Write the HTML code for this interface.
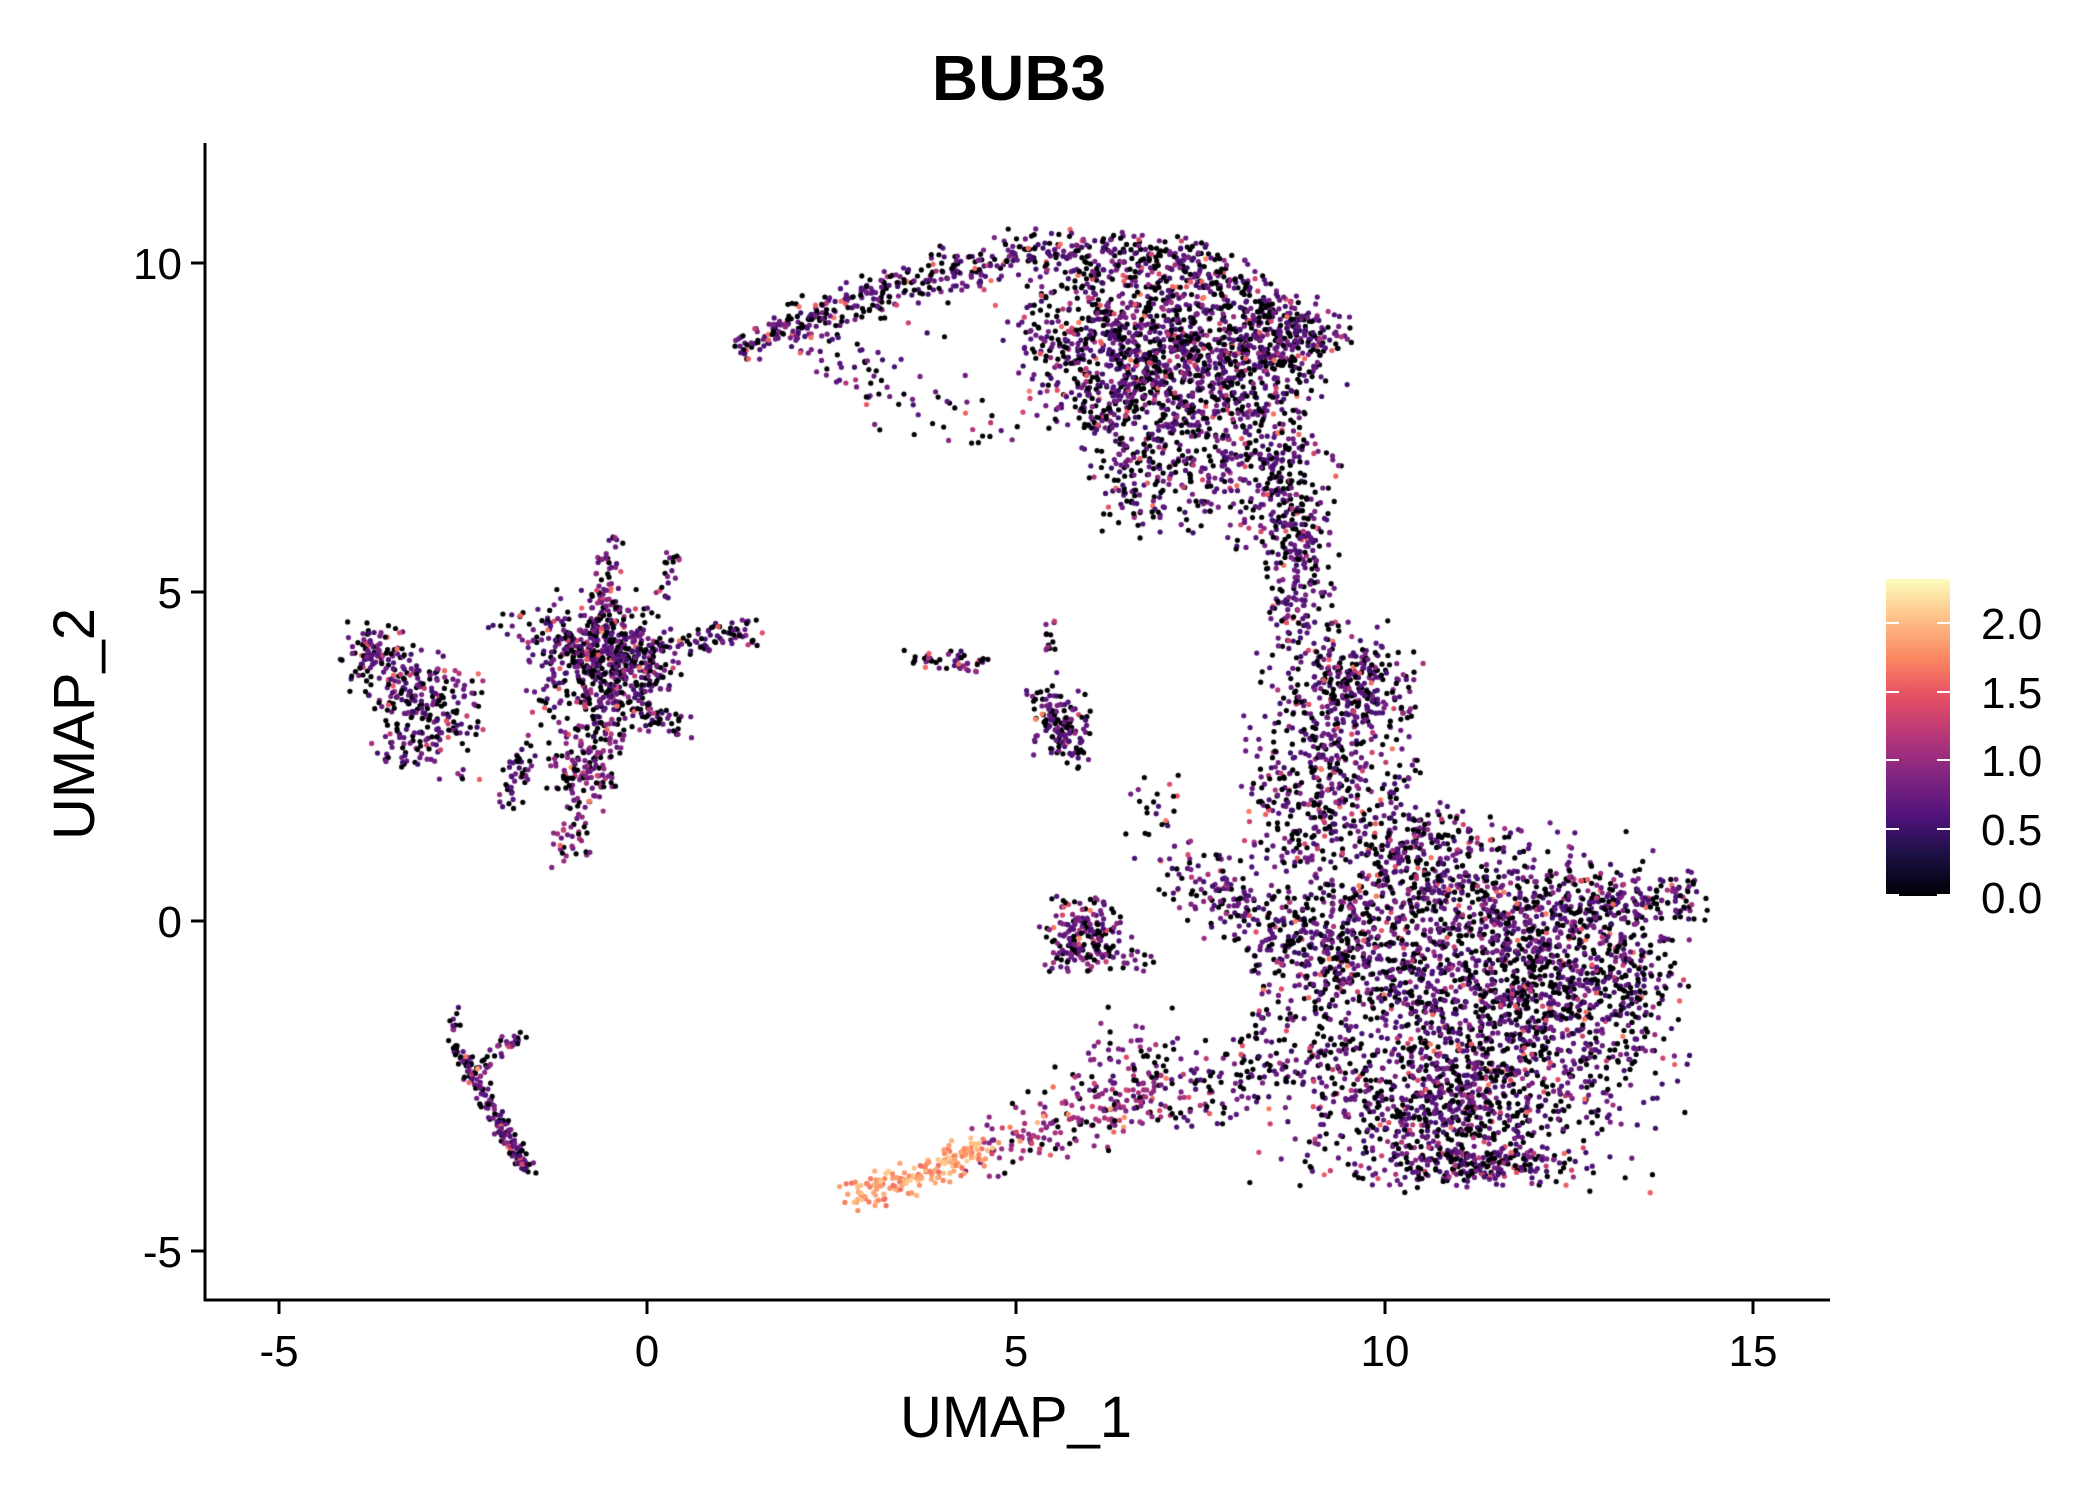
<!DOCTYPE html>
<html><head><meta charset="utf-8"><style>
html,body{margin:0;padding:0;background:#fff;}
#wrap{position:relative;width:2100px;height:1500px;overflow:hidden;font-family:"Liberation Sans",sans-serif;}
canvas{position:absolute;left:0;top:0;}
</style></head><body><div id="wrap">
<canvas id="c" width="2100" height="1500"></canvas>
<svg width="2100" height="1500" style="position:absolute;left:0;top:0" font-family="Liberation Sans, sans-serif">
<defs><linearGradient id="g" x1="0" y1="1" x2="0" y2="0">
<stop offset="0" stop-color="#000004"/><stop offset="0.13" stop-color="#1c1044"/><stop offset="0.25" stop-color="#4f127b"/>
<stop offset="0.38" stop-color="#812581"/><stop offset="0.5" stop-color="#b5367a"/><stop offset="0.63" stop-color="#e55064"/>
<stop offset="0.75" stop-color="#fb8761"/><stop offset="0.88" stop-color="#fec287"/><stop offset="1" stop-color="#fcfdbf"/></linearGradient></defs>
<text x="1019" y="100" font-size="64" font-weight="bold" text-anchor="middle">BUB3</text>
<line x1="205" y1="143" x2="205" y2="1301" stroke="#000" stroke-width="3"/>
<line x1="204" y1="1300" x2="1830" y2="1300" stroke="#000" stroke-width="3"/>
<g stroke="#000" stroke-width="3">
<line x1="279" y1="1300" x2="279" y2="1314"/><line x1="647" y1="1300" x2="647" y2="1314"/><line x1="1016" y1="1300" x2="1016" y2="1314"/><line x1="1385" y1="1300" x2="1385" y2="1314"/><line x1="1753" y1="1300" x2="1753" y2="1314"/>
<line x1="191" y1="263" x2="205" y2="263"/><line x1="191" y1="592" x2="205" y2="592"/><line x1="191" y1="921" x2="205" y2="921"/><line x1="191" y1="1251" x2="205" y2="1251"/>
</g>
<g font-size="44" text-anchor="middle">
<text x="279" y="1366">-5</text><text x="647" y="1366">0</text><text x="1016" y="1366">5</text><text x="1385" y="1366">10</text><text x="1753" y="1366">15</text>
</g>
<g font-size="44" text-anchor="end">
<text x="182" y="279">10</text><text x="182" y="608">5</text><text x="182" y="937">0</text><text x="182" y="1267">-5</text>
</g>
<text x="1016" y="1437" font-size="58" text-anchor="middle">UMAP_1</text>
<text transform="translate(94,724) rotate(-90)" font-size="58" text-anchor="middle">UMAP_2</text>
<rect x="1886" y="579" width="64" height="317" fill="url(#g)"/>
<g stroke="#fff" stroke-width="2">
<line x1="1886" y1="623" x2="1899" y2="623"/><line x1="1937" y1="623" x2="1950" y2="623"/>
<line x1="1886" y1="692" x2="1899" y2="692"/><line x1="1937" y1="692" x2="1950" y2="692"/>
<line x1="1886" y1="760" x2="1899" y2="760"/><line x1="1937" y1="760" x2="1950" y2="760"/>
<line x1="1886" y1="829" x2="1899" y2="829"/><line x1="1937" y1="829" x2="1950" y2="829"/>
<line x1="1886" y1="895" x2="1899" y2="895"/><line x1="1937" y1="895" x2="1950" y2="895"/>
</g>
<g font-size="44">
<text x="1981" y="639">2.0</text><text x="1981" y="708">1.5</text><text x="1981" y="776">1.0</text><text x="1981" y="845">0.5</text><text x="1981" y="913">0.0</text>
</g>
</svg>
<script>
var cv=document.getElementById('c'),ctx=cv.getContext('2d');
var s=12345;function r(){s=(s*1103515245+12345)%2147483648;return s/2147483648;}
function gn(){var g;do{var u=r()||1e-9,v=r();g=Math.sqrt(-2*Math.log(u))*Math.cos(6.2832*v);}while(Math.abs(g)>2.1);return g;}
var stops=[[0,0,0,4],[.13,28,16,68],[.25,79,18,123],[.38,129,37,129],[.5,181,54,122],[.63,229,80,100],[.75,251,135,97],[.88,254,194,135],[1,252,253,191]];
function col(v){var t=Math.max(0,Math.min(1,v/2.3));for(var i=1;i<stops.length;i++){if(t<=stops[i][0]){var a=stops[i-1],b=stops[i],f=(t-a[0])/(b[0]-a[0]);return 'rgb('+Math.round(a[1]+f*(b[1]-a[1]))+','+Math.round(a[2]+f*(b[2]-a[2]))+','+Math.round(a[3]+f*(b[3]-a[3]))+')';}}return 'rgb(252,253,191)';}
function X(x){return 647+x*73.8;}function Y(y){return 921-y*65.8;}
var pts=[];
function val(b){if(b>=2)return 1.6+r()*0.5;var p=r();if(p<0.4-b*0.25)return 0;if(p<0.9)return 0.45+r()*0.4+b*0.3;return 0.9+r()*0.8+b*0.3;}
function cl(cx,cy,sx,sy,n,b){for(var i=0;i<n;i++)pts.push([cx+gn()*sx,cy+gn()*sy,val(b||0)]);}
function ln(x1,y1,x2,y2,w,n,b){for(var i=0;i<n;i++){var t=r();pts.push([x1+(x2-x1)*t+gn()*w,y1+(y2-y1)*t+gn()*w,val(b||0)]);}}
// top arc
ln(1.2,8.7,3,9.5,0.15,140);ln(3,9.5,5,10.1,0.2,170);ln(5,10.1,7,10.1,0.2,170);ln(7,10.1,9.2,8.8,0.25,220);
ln(2,9.2,3.2,7.7,0.2,45);ln(3,8.6,4.8,7.4,0.3,45);
cl(6.8,8.8,0.85,0.65,750);cl(7.5,7.6,0.75,0.85,550);cl(8.5,8.7,0.5,0.4,250);cl(8.6,6.7,0.4,0.6,200);
ln(5.4,9.6,6.8,6.3,0.35,250);ln(8.8,6.2,8.9,4.3,0.25,180);
// middle
cl(9.3,2.7,0.6,0.9,450);cl(9.7,3.6,0.4,0.35,140);cl(8.9,1.7,0.35,0.5,110);
// big blob
cl(11,-1.3,1.35,1.35,1350);cl(12.1,-0.4,0.95,0.85,550);cl(10.9,-2.9,0.85,0.55,480);cl(12.8,-1.3,0.65,0.85,280);
ln(12.5,0.3,14.3,0.4,0.2,130);cl(9.4,-0.3,0.55,0.65,280);ln(7.2,0.7,9.2,-0.5,0.3,200);cl(10.5,1.0,0.55,0.45,220);cl(11.3,-3.7,0.6,0.15,170);
// tail
ln(2.8,-4.2,4.6,-3.5,0.14,170,2);ln(4.6,-3.5,7,-2.6,0.25,160,1);ln(6.6,-2.6,9.5,-2.1,0.35,170);ln(5.5,-3,6.8,-1.8,0.3,70,0.6);
ln(7,2.2,6.8,1,0.2,25);
// small clusters
cl(5.9,-0.2,0.28,0.28,150,0.3);ln(5.5,-0.4,6.7,-0.5,0.14,55,0.5);
cl(5.6,3.0,0.22,0.32,110);ln(3.6,4.0,4.6,3.9,0.09,45);ln(5.3,3.4,5.9,2.4,0.09,40);ln(5.4,4.5,5.6,3.8,0.09,15);
// left star
cl(-0.7,3.9,0.45,0.55,430);cl(-3.0,3.2,0.38,0.5,250);cl(-3.7,4.0,0.22,0.28,100);ln(-2,4.6,0.3,3.6,0.14,120);
ln(-0.6,4,1.4,4.4,0.14,150);ln(-0.7,4.2,-0.4,5.9,0.11,80,0.4);ln(-0.4,3,-1.1,1.0,0.13,110,0.6);cl(-1,2.4,0.2,0.28,70,0.5);
ln(-0.4,3.5,0.4,5.6,0.09,40);ln(-0.5,3.5,0.5,2.9,0.11,55);ln(-1.6,2.7,-1.9,1.8,0.11,45);
// bottom-left line
ln(-2.6,-1.9,-1.6,-3.8,0.07,160);ln(-2.3,-2.3,-1.7,-1.7,0.07,35,0.5);ln(-2.6,-1.3,-2.6,-2,0.04,12);
pts.sort(function(a,b){return r()-0.5;});
for(var i=0;i<pts.length;i++){var p=pts[i];ctx.fillStyle=col(p[2]);ctx.beginPath();ctx.arc(X(p[0]),Y(p[1]),2.6,0,6.2832);ctx.fill();}
</script>
</div></body></html>
